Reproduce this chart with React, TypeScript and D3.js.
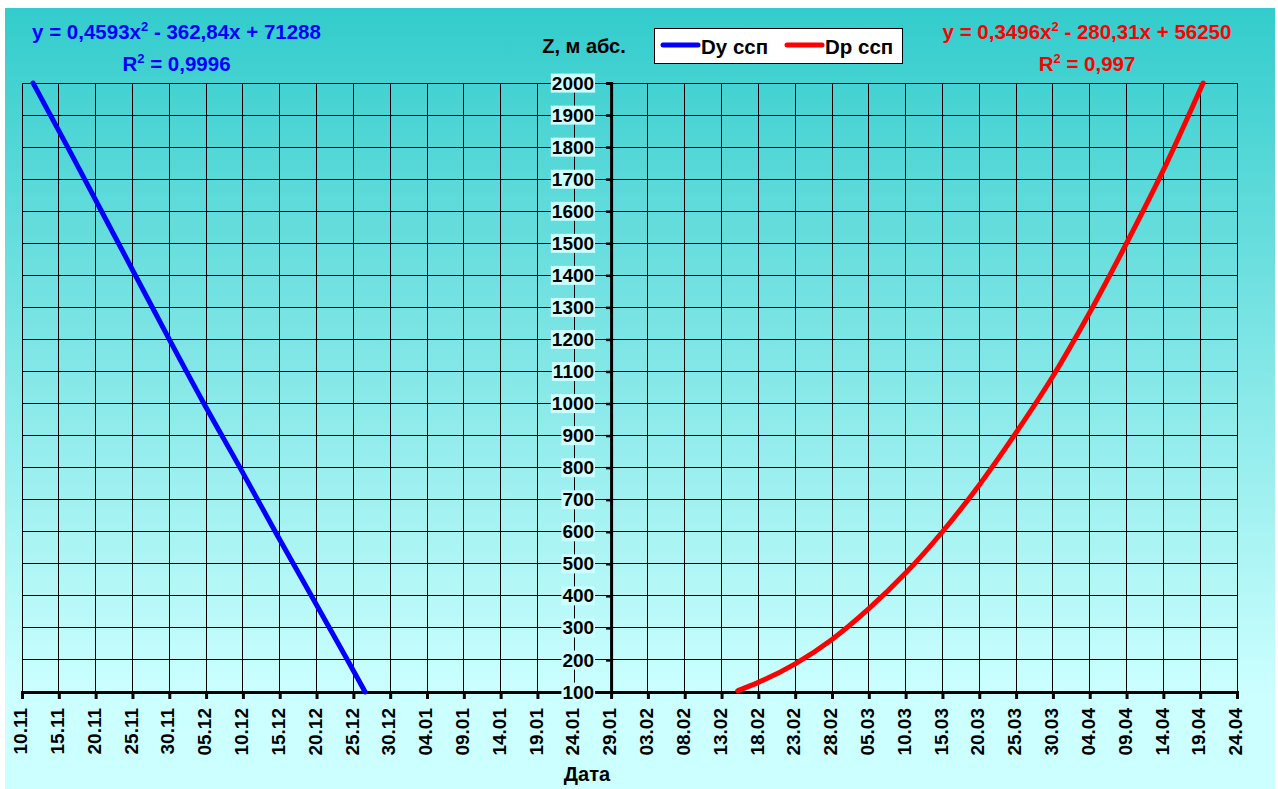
import React, { useEffect, useRef } from 'react';
import * as d3 from 'd3';

// x axis: days from 10.11, one tick every 5 days
const xTickLabels = [
  '10.11', '15.11', '20.11', '25.11', '30.11', '05.12', '10.12', '15.12', '20.12', '25.12',
  '30.12', '04.01', '09.01', '14.01', '19.01', '24.01', '29.01', '03.02', '08.02', '13.02',
  '18.02', '23.02', '28.02', '05.03', '10.03', '15.03', '20.03', '25.03', '30.03', '04.04',
  '09.04', '14.04', '19.04', '24.04',
];
const zTicks = [100, 200, 300, 400, 500, 600, 700, 800, 900, 1000, 1100, 1200, 1300, 1400, 1500, 1600, 1700, 1800, 1900, 2000];

// Dy ссп (blue)
const dyDays = [1.5, 6.2, 10.8, 15.4, 20.0, 24.7, 29.6, 34.4, 39.3, 44.2, 46.6];
const dyZ = [2000, 1800, 1600, 1400, 1200, 1000, 800, 600, 400, 200, 100];

// Dp ссп (red)
const dpDays = [97.2, 100, 105, 110, 115, 120, 125, 130, 135, 140, 145, 150, 155, 160.4];
const dpZ = [104, 130, 188, 264, 360, 471, 600, 746, 909, 1085, 1284, 1500, 1728, 2000];

const seriesNames = ['Dy ссп', 'Dp ссп'];
const seriesColors = ['#0000ff', '#ff0000'];
const eqBlue = ['y = 0,4593x', '2', ' - 362,84x + 71288', '0,9996'];
const eqRed = ['y = 0,3496x', '2', ' - 280,31x + 56250', '0,997'];

const FONT = '"Liberation Sans", Arial, sans-serif';

export default function App() {
  const svgRef = useRef<SVGSVGElement>(null);

  useEffect(() => {
    if (!svgRef.current) return;
    const W = 1278, H = 789;
    const plot = { left: 22, right: 1237, top: 83, bottom: 692 };

    d3.select(svgRef.current).selectAll('*').remove();
    const svg = d3.select(svgRef.current)
      .attr('width', W)
      .attr('height', H)
      .style('font-family', FONT)
      .style('font-weight', 'bold');

    const x = d3.scaleLinear().domain([0, (xTickLabels.length - 1) * 5]).range([plot.left, plot.right]);
    const y = d3.scaleLinear().domain([100, 2000]).range([plot.bottom, plot.top]);

    // background gradient
    const defs = svg.append('defs');
    const grad = defs.append('linearGradient')
      .attr('id', 'bg-grad')
      .attr('gradientUnits', 'userSpaceOnUse')
      .attr('x1', 0).attr('y1', 8)
      .attr('x2', 0).attr('y2', plot.bottom);
    grad.append('stop').attr('offset', '0%').attr('stop-color', '#33cccc');
    grad.append('stop').attr('offset', '100%').attr('stop-color', '#ccffff');

    svg.append('rect')
      .attr('x', 5).attr('y', 8)
      .attr('width', 1270).attr('height', H - 8)
      .attr('fill', 'url(#bg-grad)');

    const xVals = xTickLabels.map((_, i) => i * 5);

    // grid
    const grid = svg.append('g').attr('shape-rendering', 'crispEdges');
    grid.selectAll('line.v')
      .data(xVals)
      .join('line')
      .attr('class', 'v')
      .attr('x1', d => x(d)).attr('x2', d => x(d))
      .attr('y1', plot.top).attr('y2', plot.bottom)
      .attr('stroke', '#000').attr('stroke-width', 1);
    grid.selectAll('line.h')
      .data(zTicks)
      .join('line')
      .attr('class', 'h')
      .attr('x1', plot.left).attr('x2', plot.right)
      .attr('y1', d => y(d)).attr('y2', d => y(d))
      .attr('stroke', '#000').attr('stroke-width', 1);

    // x axis
    const xAxis = d3.axisBottom(x)
      .tickValues(xVals)
      .tickSize(7)
      .tickFormat((d, i) => xTickLabels[i]);
    const gx = svg.append('g')
      .attr('transform', `translate(0,${plot.bottom})`)
      .call(xAxis);
    gx.select('.domain').attr('stroke', '#000').attr('stroke-width', 3);
    gx.selectAll('.tick line').attr('stroke', '#000').attr('stroke-width', 3);
    gx.selectAll('.tick text')
      .attr('transform', 'rotate(-90)')
      .attr('x', -16)
      .attr('y', -2)
      .attr('dy', '0.35em')
      .attr('text-anchor', 'end')
      .attr('fill', '#000')
      .style('font-family', FONT)
      .style('font-weight', 'bold')
      .style('font-size', '19px');

    // y axis placed at 29.01
    const yAxisX = x(80);
    const yAxis = d3.axisLeft(y)
      .tickValues(zTicks)
      .tickSize(5)
      .tickPadding(12)
      .tickFormat(d => String(d));
    const gy = svg.append('g')
      .attr('transform', `translate(${yAxisX},0)`)
      .call(yAxis);
    gy.select('.domain').attr('stroke', '#000').attr('stroke-width', 3);
    gy.selectAll('.tick line').attr('stroke', '#000').attr('stroke-width', 2.5);
    gy.selectAll<SVGTextElement, number>('.tick text')
      .attr('fill', '#000')
      .style('font-family', FONT)
      .style('font-weight', 'bold')
      .style('font-size', '19px')
      .each(function () {
        const b = this.getBBox();
        d3.select(this.parentNode as SVGGElement)
          .insert('rect', 'text')
          .attr('x', b.x - 1).attr('y', b.y + 1)
          .attr('width', b.width + 2).attr('height', b.height - 2)
          .attr('fill', '#ccffff');
      });

    // series
    const line = d3.line<[number, number]>()
      .x(d => x(d[0]))
      .y(d => y(d[1]))
      .curve(d3.curveMonotoneX);
    const series: [number, number][][] = [
      dyDays.map((d, i) => [d, dyZ[i]]),
      dpDays.map((d, i) => [d, dpZ[i]]),
    ];
    series.forEach((s, i) => {
      svg.append('path')
        .datum(s)
        .attr('fill', 'none')
        .attr('stroke', seriesColors[i])
        .attr('stroke-width', 5)
        .attr('stroke-linecap', 'round')
        .attr('d', line);
    });

    // axis titles
    svg.append('text')
      .attr('x', 584).attr('y', 53)
      .attr('text-anchor', 'middle')
      .style('font-size', '20px')
      .text('Z, м абс.');
    svg.append('text')
      .attr('x', 587).attr('y', 781)
      .attr('text-anchor', 'middle')
      .style('font-size', '20px')
      .text('Дата');

    // legend
    const lg = svg.append('g');
    lg.append('rect')
      .attr('x', 654.5).attr('y', 28.5)
      .attr('width', 248).attr('height', 35)
      .attr('fill', '#fff').attr('stroke', '#000').attr('stroke-width', 1);
    const legendX = [663, 787];
    seriesNames.forEach((name, i) => {
      lg.append('line')
        .attr('x1', legendX[i]).attr('x2', legendX[i] + 35)
        .attr('y1', 45).attr('y2', 45)
        .attr('stroke', seriesColors[i]).attr('stroke-width', 5)
        .attr('stroke-linecap', 'round');
      lg.append('text')
        .attr('x', legendX[i] + 38).attr('y', 54)
        .style('font-size', '20.5px')
        .text(name);
    });

    // trendline equations
    const equation = (cx: number, color: string, eq: string[]) => {
      const t = svg.append('text')
        .attr('x', cx).attr('y', 39)
        .attr('text-anchor', 'middle')
        .attr('fill', color)
        .style('font-size', '20.5px');
      t.append('tspan').text(eq[0]);
      t.append('tspan').attr('dy', -8).style('font-size', '13px').text(eq[1]);
      t.append('tspan').attr('dy', 8).text(eq[2]);
      const r = svg.append('text')
        .attr('x', cx).attr('y', 71)
        .attr('text-anchor', 'middle')
        .attr('fill', color)
        .style('font-size', '20.5px');
      r.append('tspan').text('R');
      r.append('tspan').attr('dy', -8).style('font-size', '13px').text('2');
      r.append('tspan').attr('dy', 8).text(' = ' + eq[3]);
    };
    equation(176.5, seriesColors[0], eqBlue);
    equation(1087, seriesColors[1], eqRed);
  }, []);

  return (
    <div style={{ position: 'fixed', left: 0, top: 0, width: 1278, height: 789, background: '#fff' }}>
      <svg ref={svgRef} style={{ display: 'block' }}></svg>
    </div>
  );
}
